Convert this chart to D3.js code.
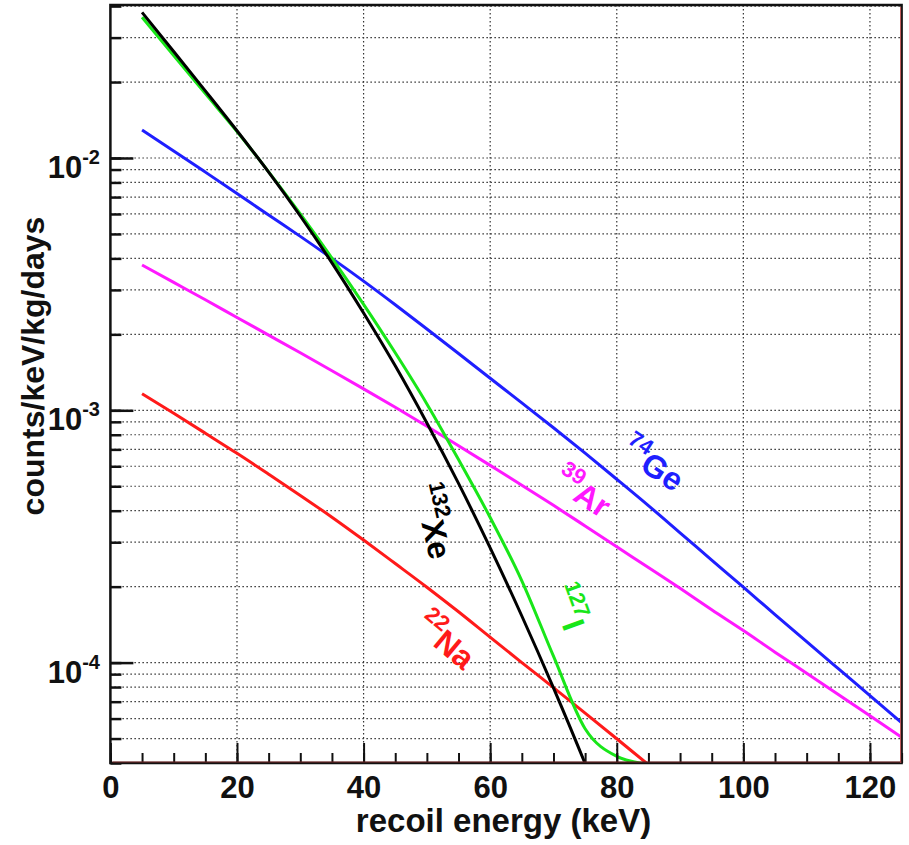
<!DOCTYPE html>
<html>
<head>
<meta charset="utf-8">
<script src="https://cdn.jsdelivr.net/npm/d3@7"></script>
<style>
  body { margin: 0; background: #fff; }
  text { font-family: "Liberation Sans", Arial, Helvetica, sans-serif; font-weight: bold; }
</style>
</head>
<body>
<svg id="chart" width="909" height="845"></svg>
<script>
// Recoil energy grid (keV)
const energy = [5, 10, 15, 20, 25, 30, 35, 40, 45, 50, 55, 60, 65, 70, 75, 80, 85, 90, 95, 100, 105, 110, 115, 120, 125];

// Expected rates (counts/keV/kg/days) per target nucleus
const ge74  = [0.01291, 0.01067, 0.00879, 0.00723, 0.00594, 0.00489, 0.0040, 0.00325, 0.00262, 0.0021, 0.00168, 0.00134, 0.00107, 0.000853, 0.000676, 0.000533, 0.000419, 0.000327, 0.000255, 0.000199, 0.000155, 0.000121, 9.46e-5, 7.40e-5, 5.78e-5];
const ar39  = [0.003767, 0.003214, 0.002742, 0.002333, 0.001986, 0.00169, 0.001435, 0.001216, 0.001028, 0.000865, 0.000724, 0.000605, 0.000505, 0.00042, 0.000348, 0.000288, 0.000238, 0.000197, 0.000162, 0.000134, 0.00011, 9.08e-5, 7.48e-5, 6.15e-5, 5.06e-5];
const xe132 = [0.03776, 0.02642, 0.01845, 0.01282, 0.00879, 0.00589, 0.00384, 0.00243, 0.0015, 0.000891, 0.000513, 0.000285, 0.000153, 7.94e-5, 3.98e-5, 1.93e-5, null, null, null, null, null, null, null, null, null];
const i127  = [0.03614, 0.02547, 0.01799, 0.01274, 0.00881, 0.0060, 0.00401, 0.00263, 0.00169, 0.00106, 0.000638, 0.000376, 0.000211, 0.000106, 5.47e-5, 4.25e-5, 3.94e-5, 3.72e-5, null, null, null, null, null, null, null];
const na22  = [0.001164, 0.000973, 0.000811, 0.000675, 0.000558, 0.00046, 0.000377, 0.000306, 0.000247, 0.000199, 0.000159, 0.000126, 0.0001, 7.96e-5, 6.31e-5, 4.99e-5, 3.94e-5, 3.12e-5, null, null, null, null, null, null, null];

// Axis ticks
const xMajorTicks = [0, 20, 40, 60, 80, 100, 120];
const xMinorTicks = d3.range(0, 126, 5);
const yDecades = [1e-2, 1e-3, 1e-4];
const yDecadeExp = ["-2", "-3", "-4"];

const svg = d3.select("#chart");
const plotL = 110.4, plotR = 901.6, plotT = 5, plotB = 763;

const x = d3.scaleLinear().domain([0, 125]).range([plotL, plotR]);
const y = d3.scaleLog().domain([4.0e-5, 0.0404]).range([plotB, plotT]);

// minor ticks of the log axis inside the domain
const yMinorTicks = [];
[1e-5, 1e-4, 1e-3, 1e-2].forEach(d => {
  for (let k = 1; k <= 9; k++) {
    const v = d * k;
    if (v >= y.domain()[0] && v <= y.domain()[1]) yMinorTicks.push(v);
  }
});

// dotted grid
const grid = svg.append("g").attr("stroke", "#333").attr("stroke-width", 1.2)
  .attr("stroke-dasharray", "1.5,2.5").attr("fill", "none");
grid.selectAll("line.v").data(xMajorTicks.filter(d => d > 0)).join("line").attr("class", "v")
  .attr("x1", d => x(d)).attr("x2", d => x(d)).attr("y1", plotT).attr("y2", plotB);
grid.selectAll("line.h").data(yMinorTicks).join("line").attr("class", "h")
  .attr("x1", plotL).attr("x2", plotR).attr("y1", d => y(d)).attr("y2", d => y(d));

// curves
svg.append("clipPath").attr("id", "plotClip").append("rect")
  .attr("x", plotL).attr("y", plotT).attr("width", plotR - plotL).attr("height", plotB - plotT);

const series = [
  { values: ge74,  color: "#1f1fff" },
  { values: ar39,  color: "#ff19ff" },
  { values: na22,  color: "#ff1a1a" },
  { values: i127,  color: "#19e619" },
  { values: xe132, color: "#000000" }
];

const line = d3.line()
  .defined(d => d[1] != null)
  .x(d => x(d[0]))
  .y(d => y(d[1]))
  .curve(d3.curveMonotoneX);

const curves = svg.append("g").attr("clip-path", "url(#plotClip)");
series.forEach(s => {
  curves.append("path")
    .datum(energy.map((e, i) => [e, s.values[i]]))
    .attr("d", line)
    .attr("fill", "none")
    .attr("stroke", s.color)
    .attr("stroke-width", 3)
    .attr("stroke-linejoin", "round");
});

// axes
const xAxisMinor = d3.axisBottom(x).tickValues(xMinorTicks).tickSize(-10).tickFormat("");
const xAxisMajor = d3.axisBottom(x).tickValues(xMajorTicks).tickSize(-20).tickPadding(13);
const gxm = svg.append("g").attr("transform", `translate(0,${plotB})`).call(xAxisMinor);
gxm.select(".domain").remove();
gxm.selectAll("line").attr("stroke", "#111").attr("stroke-width", 2);
const gx = svg.append("g").attr("transform", `translate(0,${plotB})`).call(xAxisMajor);
gx.select(".domain").remove();
gx.selectAll("line").attr("stroke", "#111").attr("stroke-width", 2);
gx.selectAll("text").attr("font-size", 31).attr("fill", "#111");

const yAxisMinor = d3.axisLeft(y).tickValues(yMinorTicks).tickSize(-11).tickFormat("");
const yAxisMajor = d3.axisLeft(y).tickValues(yDecades).tickSize(-23).tickFormat("");
[yAxisMinor, yAxisMajor].forEach(ax => {
  const g = svg.append("g").attr("transform", `translate(${plotL},0)`).call(ax);
  g.select(".domain").remove();
  g.selectAll("line").attr("stroke", "#111").attr("stroke-width", 2.5);
});

// decade labels 10^n
const yl = svg.append("g").attr("fill", "#111");
yDecades.forEach((d, i) => {
  const t = yl.append("text").attr("x", 100).attr("y", y(d) + 20).attr("text-anchor", "end");
  t.append("tspan").attr("font-size", 31).text("10");
  t.append("tspan").attr("font-size", 20).attr("dy", -14).text(yDecadeExp[i]);
});

// frame
svg.append("rect").attr("x", plotL).attr("y", plotT).attr("width", plotR - plotL).attr("height", plotB - plotT)
  .attr("fill", "none").attr("stroke", "#111").attr("stroke-width", 2.5);
svg.append("line").attr("x1", plotR - 1).attr("x2", plotR - 1).attr("y1", plotT + 2).attr("y2", plotB)
  .attr("stroke", "#c85a5a").attr("stroke-width", 1);
svg.append("line").attr("x1", plotL + 2).attr("x2", plotR).attr("y1", plotB - 1).attr("y2", plotB - 1)
  .attr("stroke", "#7a2a2a").attr("stroke-width", 1);

// axis titles
svg.append("text").attr("x", 503.5).attr("y", 832).attr("text-anchor", "middle")
  .attr("font-size", 33).attr("fill", "#111").text("recoil energy (keV)");
svg.append("text").attr("transform", "translate(44,366) rotate(-90)").attr("text-anchor", "middle")
  .attr("font-size", 32).attr("fill", "#111").text("counts/keV/kg/days");

// isotope labels: mass number raised before the element symbol, along a rotated baseline
function isotope(x0, y0, angle, mass, sym, color) {
  const t = svg.append("text")
    .attr("transform", `translate(${x0},${y0}) rotate(${angle})`)
    .attr("fill", color);
  t.append("tspan").attr("font-size", 22).attr("dy", -16).text(mass);
  t.append("tspan").attr("font-size", 32).attr("dy", 16).text(sym);
}
isotope(618, 456, 33, "74", "Ge", "#1f1fff");
isotope(551, 486, 33, "39", "Ar", "#ff19ff");
isotope(413, 487, 77, "132", "Xe", "#000000");
isotope(549, 590, 70, "127", "I", "#19e619");
isotope(413, 629, 40, "22", "Na", "#ff1a1a");
</script>
</body>
</html>
